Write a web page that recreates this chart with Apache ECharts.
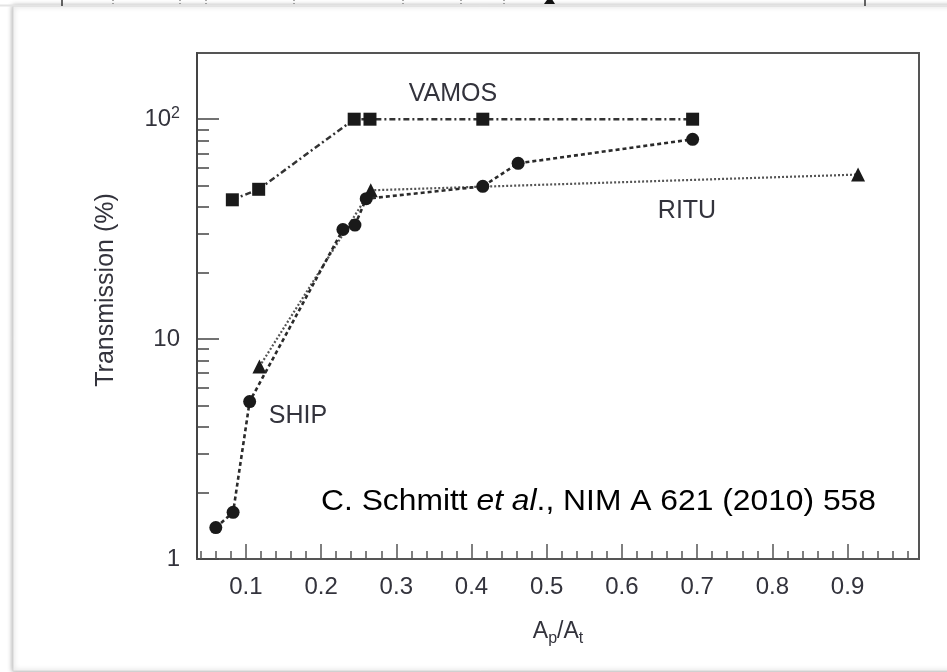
<!DOCTYPE html>
<html>
<head>
<meta charset="utf-8">
<script src="https://cdn.jsdelivr.net/npm/echarts@6/dist/echarts.min.js"></script>
<style>
html,body{margin:0;padding:0;background:#fff;}
#c{width:947px;height:672px;}
</style>
</head>
<body>
<div id="c"></div>
<script>
// ---- data ----
const vamosX = [0.082, 0.117, 0.244, 0.265, 0.415, 0.694];
const vamosY = [43, 48, 100, 100, 100, 100];

const shipX = [0.060, 0.083, 0.105, 0.229, 0.245, 0.260, 0.415, 0.462, 0.694];
const shipY = [1.39, 1.63, 5.2, 31.5, 33, 43.5, 49.5, 63, 81];

const rituX = [0.118, 0.266, 0.914];
const rituY = [7.5, 47.5, 56];

// ---- axes / ticks ----
const xMin = 0.035, xMax = 0.995;
const yMin = 1, yMax = 200;
const xMajorTicks = [0.1, 0.2, 0.3, 0.4, 0.5, 0.6, 0.7, 0.8, 0.9];
const xMinorTicks = [0.04,0.06,0.08,0.12,0.14,0.16,0.18,0.22,0.24,0.26,0.28,0.32,0.34,0.36,0.38,
                     0.42,0.44,0.46,0.48,0.52,0.54,0.56,0.58,0.62,0.64,0.66,0.68,0.72,0.74,0.76,0.78,
                     0.82,0.84,0.86,0.88,0.92,0.94,0.96,0.98];
const yMajorTicks = [1, 10, 100];
const yMajorLabels = ['1', '10', '10{sup|2}'];
const yMinorTicks = [2,3,4,5,6,7,8,9,20,30,40,50,60,70,80,90];

const zip = (xs, ys) => xs.map((x, i) => [x, ys[i]]);
const lg = v => Math.log10(v);

const txt = '#33333c';
const font = '"Liberation Sans", Arial, sans-serif';

const chart = echarts.init(document.getElementById('c'));
chart.setOption({
  animation: false,
  backgroundColor: '#fff',
  textStyle: { fontFamily: font },
  grid: {
    left: 197, top: 53, width: 722, height: 506,
    show: true, borderColor: '#555', borderWidth: 2,
    outerBoundsMode: 'none', containLabel: false
  },
  xAxis: [
    {
      type: 'value', min: xMin, max: xMax, position: 'bottom',
      axisLine: { show: true, lineStyle: { color: '#555', width: 2 } },
      axisTick: { show: true, inside: true, length: 15, customValues: xMajorTicks, lineStyle: { color: '#555', width: 1.5 } },
      axisLabel: { show: true, customValues: xMajorTicks, margin: 16, fontSize: 24, color: txt, fontFamily: font,
                   formatter: v => v.toFixed(1) },
      splitLine: { show: false },
      name: '{a|A}{s|p}{a|/A}{s|t}', nameLocation: 'middle', nameGap: 58,
      nameTextStyle: {
        color: txt, fontFamily: font,
        rich: {
          a: { fontSize: 23, color: txt, fontFamily: font },
          s: { fontSize: 16, color: txt, fontFamily: font, padding: [14, 0, 0, 0] }
        }
      }
    },
    {
      type: 'value', min: xMin, max: xMax, position: 'bottom',
      axisLine: { show: false },
      axisTick: { show: true, inside: true, length: 8, customValues: xMinorTicks, lineStyle: { color: '#555', width: 1.5 } },
      axisLabel: { show: false },
      splitLine: { show: false }
    }
  ],
  yAxis: [
    {
      type: 'log', logBase: 10, min: yMin, max: yMax, position: 'left',
      axisLine: { show: true, lineStyle: { color: '#444', width: 2 } },
      axisTick: { show: false }, axisLabel: { show: false }, splitLine: { show: false }
    },
    {
      type: 'value', min: lg(yMin), max: lg(yMax), position: 'left',
      axisLine: { show: false },
      axisTick: { show: true, inside: true, length: 22, customValues: yMajorTicks.map(lg), lineStyle: { color: '#444', width: 1.5 } },
      axisLabel: {
        show: true, customValues: yMajorTicks.map(lg), margin: 17, fontSize: 24, color: txt, fontFamily: font,
        formatter: v => yMajorLabels[Math.round(v)],
        rich: { sup: { fontSize: 16, color: txt, fontFamily: font, padding: [0, 0, 12, 0] } }
      },
      splitLine: { show: false }
    },
    {
      type: 'value', min: lg(yMin), max: lg(yMax), position: 'left',
      axisLine: { show: false },
      axisTick: { show: true, inside: true, length: 12, customValues: yMinorTicks.map(lg), lineStyle: { color: '#444', width: 1.5 } },
      axisLabel: { show: false }, splitLine: { show: false }
    }
  ],
  series: [
    {
      name: 'VAMOS', type: 'line', xAxisIndex: 0, yAxisIndex: 0,
      data: zip(vamosX, vamosY),
      symbol: 'rect', symbolSize: 13,
      itemStyle: { color: '#1a1a1a' },
      lineStyle: { color: '#333', width: 2.5, type: [6, 3, 2, 3] },
      z: 4
    },
    {
      name: 'SHIP', type: 'line', xAxisIndex: 0, yAxisIndex: 0,
      data: zip(shipX, shipY),
      symbol: 'circle', symbolSize: 13,
      itemStyle: { color: '#1a1a1a' },
      lineStyle: { color: '#2a2a2a', width: 2.6, type: [4, 3] },
      z: 4
    },
    {
      name: 'RITU', type: 'line', xAxisIndex: 0, yAxisIndex: 0,
      data: zip(rituX, rituY),
      symbol: 'triangle', symbolSize: 14,
      itemStyle: { color: '#1a1a1a' },
      lineStyle: { color: '#555', width: 2.2, type: [2, 2] },
      z: 3
    }
  ],
  graphic: [
    // screenshot frame
    { type: 'rect', z: -10, shape: { x: 13, y: 6, width: 1000, height: 665 },
      style: { fill: '#fff', stroke: '#d4d4d4', lineWidth: 1, shadowBlur: 5, shadowColor: 'rgba(0,0,0,0.35)' } },
    { type: 'line', z: -9, shape: { x1: 0, y1: 5.5, x2: 947, y2: 5.5 }, style: { stroke: '#e4e4e4', lineWidth: 2 } },
    { type: 'line', shape: { x1: 62, y1: 0, x2: 62, y2: 6 }, style: { stroke: '#333', lineWidth: 1.5 } },
    { type: 'line', shape: { x1: 865, y1: 0, x2: 865, y2: 6 }, style: { stroke: '#333', lineWidth: 1.5 } },
    { type: 'line', shape: { x1: 113, y1: 0, x2: 113, y2: 6 }, style: { stroke: '#555', lineWidth: 1, lineDash: [1, 2] } },
    { type: 'line', shape: { x1: 180, y1: 0, x2: 180, y2: 6 }, style: { stroke: '#555', lineWidth: 1, lineDash: [1, 2] } },
    { type: 'line', shape: { x1: 206, y1: 0, x2: 206, y2: 6 }, style: { stroke: '#555', lineWidth: 1, lineDash: [1, 2] } },
    { type: 'line', shape: { x1: 294, y1: 0, x2: 294, y2: 6 }, style: { stroke: '#555', lineWidth: 1, lineDash: [1, 2] } },
    { type: 'line', shape: { x1: 403, y1: 0, x2: 403, y2: 6 }, style: { stroke: '#555', lineWidth: 1, lineDash: [1, 2] } },
    { type: 'line', shape: { x1: 461, y1: 0, x2: 461, y2: 6 }, style: { stroke: '#555', lineWidth: 1, lineDash: [1, 2] } },
    { type: 'line', shape: { x1: 504, y1: 0, x2: 504, y2: 6 }, style: { stroke: '#555', lineWidth: 1, lineDash: [1, 2] } },
    { type: 'polygon', shape: { points: [[544, 4], [555, 4], [550, -4]] }, style: { fill: '#111' } },

    // axis title
    { type: 'text', x: 106, y: 290, rotation: Math.PI / 2,
      style: { text: 'Transmission (%)', font: '25px ' + font, fill: txt, align: 'center', verticalAlign: 'middle' } },
    // annotations
    { type: 'text', x: 453, y: 94, style: { text: 'VAMOS', font: '25px ' + font, fill: txt, align: 'center', verticalAlign: 'middle' } },
    { type: 'text', x: 687, y: 211, style: { text: 'RITU', font: '25px ' + font, fill: txt, align: 'center', verticalAlign: 'middle' } },
    { type: 'text', x: 298, y: 416, style: { text: 'SHIP', font: '25px ' + font, fill: txt, align: 'center', verticalAlign: 'middle' } },
    { type: 'text', x: 321, y: 502, scaleX: 1.06,
      style: {
        text: '{n|C. Schmitt }{i|et al}{n|., NIM A 621 (2010) 558}',
        align: 'left', verticalAlign: 'middle', fill: '#000',
        rich: {
          n: { fontSize: 30, fontFamily: font, fill: '#000' },
          i: { fontSize: 30, fontFamily: font, fontStyle: 'italic', fill: '#000' }
        }
      } }
  ]
});
</script>
</body>
</html>
